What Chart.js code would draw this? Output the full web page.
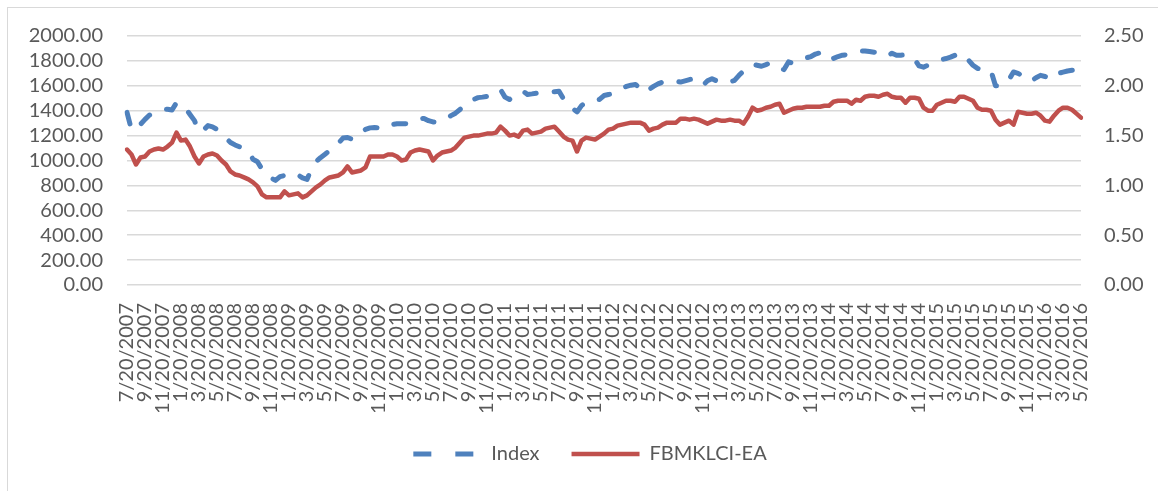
<!DOCTYPE html>
<html>
<head>
<meta charset="utf-8">
<title>Index vs FBMKLCI-EA</title>
<script src="https://cdn.jsdelivr.net/npm/chart.js@4.4.0/dist/chart.umd.min.js"></script>
<style>
  html, body { margin: 0; padding: 0; background: #fff; }
  #frame { position: relative; width: 1158px; height: 491px; overflow: hidden; }
  #frame .edge { position: absolute; left: 7px; top: 7px; width: 1300px; height: 700px; border: 1px solid #d9d9d9; }
  #frame canvas { position: absolute; left: 0; top: 0; }
</style>
</head>
<body>
<div id="frame"><div class="edge"></div><canvas id="chart" width="1158" height="491"></canvas></div>
<script>
// Tick labels shown on the x axis (every second month)
const tickLabels = [
    '7/20/2007', '9/20/2007', '11/20/2007',
    '1/20/2008', '3/20/2008', '5/20/2008', '7/20/2008', '9/20/2008', '11/20/2008',
    '1/20/2009', '3/20/2009', '5/20/2009', '7/20/2009', '9/20/2009', '11/20/2009',
    '1/20/2010', '3/20/2010', '5/20/2010', '7/20/2010', '9/20/2010', '11/20/2010',
    '1/20/2011', '3/20/2011', '5/20/2011', '7/20/2011', '9/20/2011', '11/20/2011',
    '1/20/2012', '3/20/2012', '5/20/2012', '7/20/2012', '9/20/2012', '11/20/2012',
    '1/20/2013', '3/20/2013', '5/20/2013', '7/20/2013', '9/20/2013', '11/20/2013',
    '1/20/2014', '3/20/2014', '5/20/2014', '7/20/2014', '9/20/2014', '11/20/2014',
    '1/20/2015', '3/20/2015', '5/20/2015', '7/20/2015', '9/20/2015', '11/20/2015',
    '1/20/2016', '3/20/2016', '5/20/2016'
];

// Index (left axis), half-monthly readings
const indexValues = [
    1387, 1245, 1265, 1290, 1330, 1365, 1380, 1390, 1410, 1412,
    1405, 1465, 1440, 1420, 1370, 1320, 1230, 1245, 1280, 1270,
    1250, 1215, 1180, 1145, 1125, 1110, 1095, 1070, 1010, 990,
    930, 888, 860, 840, 870, 880, 895, 900, 885, 860,
    848, 930, 990, 1023, 1050, 1080, 1095, 1140, 1180, 1185,
    1170, 1200, 1225, 1250, 1262, 1265, 1262, 1260, 1262, 1290,
    1295, 1295, 1296, 1300, 1320, 1335, 1338, 1320, 1310, 1306,
    1325, 1340, 1360, 1380, 1410, 1440, 1455, 1490, 1505, 1509,
    1515, 1530, 1550, 1570, 1509, 1490, 1520, 1540, 1557, 1530,
    1535, 1541, 1545, 1548, 1550, 1553, 1557, 1495, 1441, 1420,
    1390, 1441, 1470, 1482, 1486, 1490, 1522, 1530, 1536, 1560,
    1580, 1595, 1605, 1611, 1580, 1545, 1570, 1595, 1615, 1630,
    1640, 1644, 1635, 1630, 1640, 1650, 1657, 1640, 1605, 1640,
    1657, 1640, 1625, 1622, 1630, 1644, 1684, 1720, 1760, 1773,
    1765, 1757, 1770, 1785, 1760, 1740, 1730, 1792, 1780, 1790,
    1810, 1825, 1835, 1855, 1865, 1835, 1806, 1820, 1835, 1846,
    1850, 1862, 1870, 1880, 1880, 1875, 1870, 1868, 1865, 1840,
    1862, 1846, 1846, 1848, 1846, 1815, 1760, 1750, 1765, 1779,
    1795, 1810, 1819, 1830, 1845, 1865, 1830, 1806, 1765, 1740,
    1730, 1735, 1720, 1600, 1600, 1611, 1650, 1711, 1700, 1680,
    1675, 1640, 1665, 1684, 1675, 1665, 1657, 1700, 1710, 1719,
    1725, 1730, 1735
];

// FBMKLCI-EA (right axis), half-monthly readings
const eaValues = [
    1.36, 1.31, 1.21, 1.28, 1.29, 1.34, 1.36, 1.37, 1.36, 1.39,
    1.43, 1.53, 1.45, 1.46, 1.39, 1.29, 1.22, 1.29, 1.31, 1.32,
    1.30, 1.25, 1.21, 1.14, 1.11, 1.10, 1.08, 1.06, 1.03, 0.99,
    0.91, 0.88, 0.88, 0.88, 0.88, 0.94, 0.90, 0.91, 0.92, 0.88,
    0.90, 0.94, 0.98, 1.01, 1.05, 1.08, 1.09, 1.10, 1.13, 1.19,
    1.13, 1.14, 1.15, 1.18, 1.29, 1.29, 1.29, 1.29, 1.31, 1.31,
    1.29, 1.25, 1.26, 1.33, 1.35, 1.36, 1.35, 1.34, 1.25, 1.30,
    1.33, 1.34, 1.35, 1.38, 1.43, 1.48, 1.49, 1.50, 1.50, 1.51,
    1.52, 1.52, 1.53, 1.59, 1.55, 1.50, 1.51, 1.49, 1.55, 1.56,
    1.52, 1.53, 1.54, 1.57, 1.58, 1.59, 1.54, 1.49, 1.46, 1.45,
    1.34, 1.45, 1.48, 1.47, 1.46, 1.49, 1.52, 1.56, 1.57, 1.60,
    1.61, 1.62, 1.63, 1.63, 1.63, 1.61, 1.55, 1.57, 1.58, 1.61,
    1.63, 1.63, 1.63, 1.67, 1.67, 1.66, 1.67, 1.66, 1.64, 1.62,
    1.64, 1.66, 1.65, 1.65, 1.66, 1.65, 1.65, 1.62, 1.69, 1.78,
    1.75, 1.76, 1.78, 1.79, 1.81, 1.82, 1.73, 1.75, 1.77, 1.78,
    1.78, 1.79, 1.79, 1.79, 1.79, 1.80, 1.80, 1.84, 1.85, 1.85,
    1.85, 1.82, 1.86, 1.85, 1.89, 1.90, 1.90, 1.89, 1.91, 1.92,
    1.89, 1.88, 1.88, 1.83, 1.88, 1.88, 1.87, 1.78, 1.75, 1.75,
    1.81, 1.83, 1.85, 1.85, 1.84, 1.89, 1.89, 1.87, 1.85, 1.78,
    1.76, 1.76, 1.75, 1.66, 1.61, 1.63, 1.65, 1.61, 1.74, 1.73,
    1.72, 1.72, 1.73, 1.70, 1.65, 1.64, 1.70, 1.75, 1.78, 1.78,
    1.76, 1.72, 1.68
];

// Category dates: the 20th and the 5th of each month, starting 7/20/2007
function buildDates(count) {
    const out = [];
    for (let j = 0; j < count; j++) {
        let m = 6 + Math.floor(j / 2) + (j % 2);   // 0-based month from Jan 2007
        const y = 2007 + Math.floor(m / 12);
        m = m % 12 + 1;
        out.push(m + '/' + (j % 2 ? 5 : 20) + '/' + y);
    }
    return out;
}
const dates = buildDates(indexValues.length);

const TEXT = '#595959';
const FONT = 'Lato';

// legend sits a little right of centre in the source
const legendShift = {
    id: 'legendShift',
    afterLayout(chart) {
        chart.legend.left += 11;
        chart.legend.right += 11;
    }
};

const ctx = document.getElementById('chart').getContext('2d');
new Chart(ctx, {
    type: 'line',
    data: {
        labels: dates,
        datasets: [{
            label: 'Index',
            data: indexValues,
            yAxisID: 'y',
            borderColor: '#4F81BD',
            backgroundColor: '#4F81BD',
            borderWidth: 5,
            borderDash: [12, 18],
            borderCapStyle: 'round',
            borderJoinStyle: 'round',
            pointRadius: 0,
            tension: 0
        }, {
            label: 'FBMKLCI-EA',
            data: eaValues,
            yAxisID: 'y1',
            borderColor: '#C0504D',
            backgroundColor: '#C0504D',
            borderWidth: 4.5,
            borderCapStyle: 'round',
            borderJoinStyle: 'round',
            pointRadius: 0,
            tension: 0
        }]
    },
    plugins: [legendShift],
    options: {
        responsive: false,
        animation: false,
        layout: { padding: { top: 36, bottom: 17, left: 0, right: 0 } },
        scales: {
            x: {
                type: 'category',
                grid: { display: false, drawTicks: false },
                border: { display: false },
                afterFit: (s) => { s.height = 127; },
                ticks: {
                    autoSkip: false,
                    minRotation: 90,
                    maxRotation: 90,
                    padding: 18,
                    color: TEXT,
                    font: { family: FONT, size: 20 },
                    callback: (v, i) => (i % 4 === 0 ? tickLabels[i / 4] : null)
                }
            },
            y: {
                position: 'left',
                min: 0,
                max: 2000,
                grid: { color: '#d9d9d9', lineWidth: 1.5, drawTicks: false },
                border: { display: false },
                afterFit: (s) => { s.width = 127; },
                ticks: {
                    stepSize: 200,
                    autoSkip: false,
                    padding: 24,
                    color: TEXT,
                    font: { family: FONT, size: 20 },
                    callback: (v) => v.toFixed(2)
                }
            },
            y1: {
                position: 'right',
                min: 0,
                max: 2.5,
                grid: { display: false, drawTicks: false },
                border: { display: false },
                afterFit: (s) => { s.width = 77; },
                ticks: {
                    stepSize: 0.5,
                    autoSkip: false,
                    padding: 23,
                    color: TEXT,
                    font: { family: FONT, size: 20 },
                    callback: (v) => v.toFixed(2)
                }
            }
        },
        plugins: {
            tooltip: { enabled: false },
            legend: {
                position: 'bottom',
                labels: {
                    usePointStyle: true,
                    pointStyle: 'line',
                    pointStyleWidth: 68,
                    padding: 32,
                    color: TEXT,
                    font: { family: FONT, size: 20 },
                    generateLabels: (chart) => {
                        const items = Chart.defaults.plugins.legend.labels.generateLabels(chart);
                        items[0].lineDash = [18, 24];
                        return items;
                    }
                }
            }
        }
    }
});
</script>
</body>
</html>
